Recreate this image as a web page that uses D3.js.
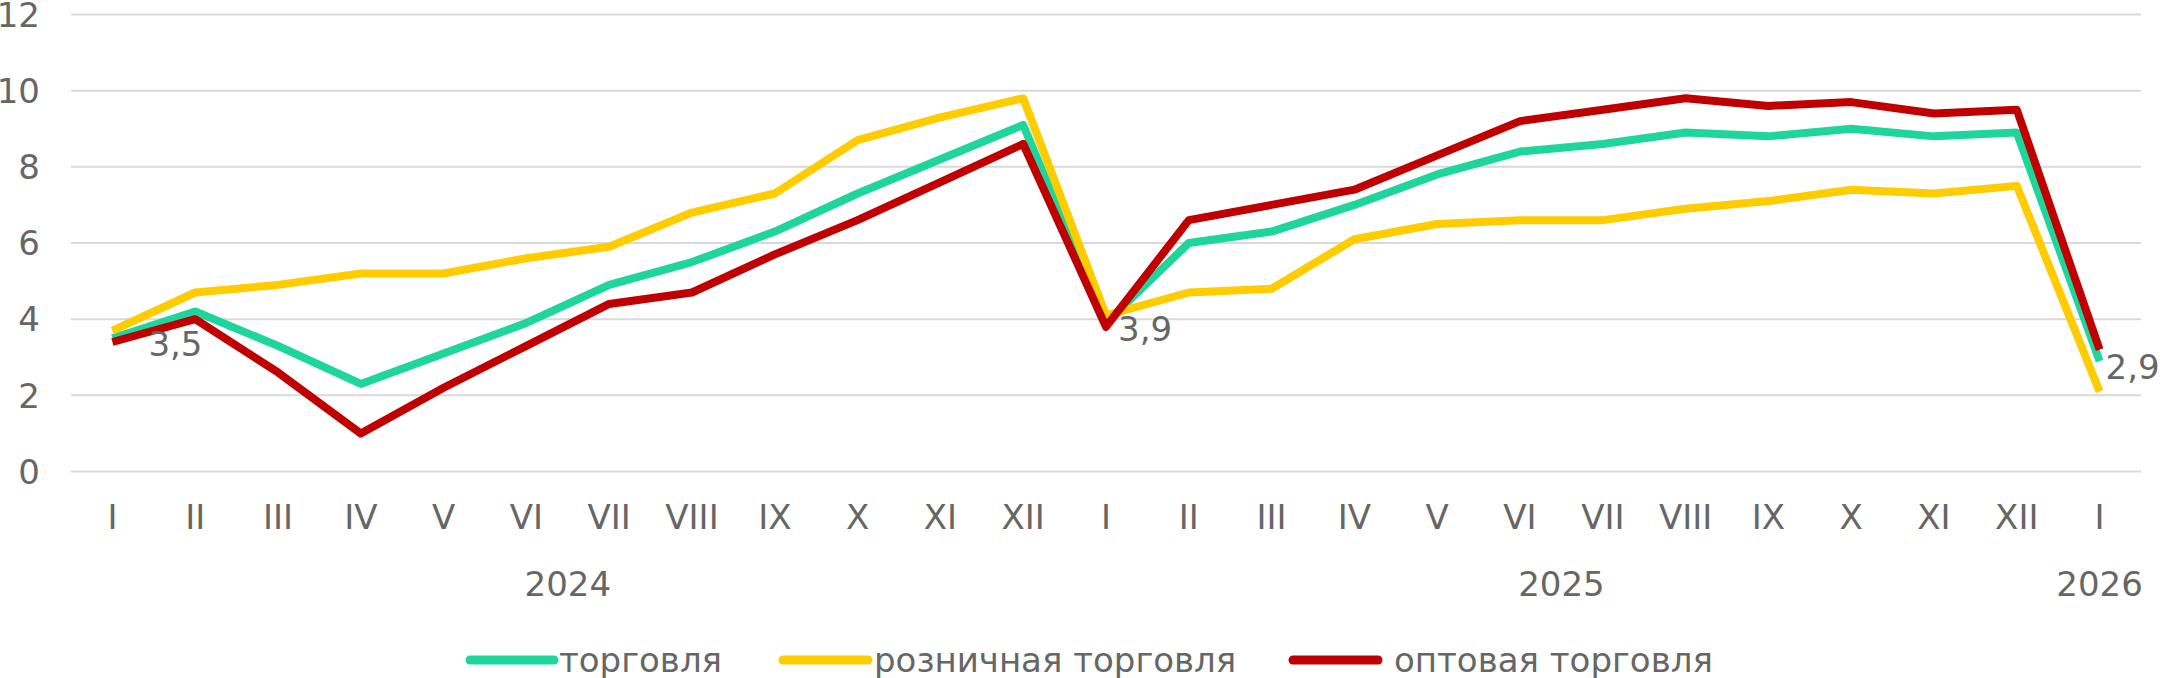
<!DOCTYPE html>
<html><head><meta charset="utf-8">
<script src="https://cdn.jsdelivr.net/npm/d3@7"></script>
<style>body{margin:0;background:#fff}text{font-family:"DejaVu Sans",Verdana,sans-serif;fill:#666666}</style>
</head><body><svg id="c" width="2160" height="678"></svg>
<script>
const months=["I","II","III","IV","V","VI","VII","VIII","IX","X","XI","XII","I","II","III","IV","V","VI","VII","VIII","IX","X","XI","XII","I"];
const years=[{label:"2024",from:0,to:11},{label:"2025",from:12,to:23},{label:"2026",from:24,to:24}];
const trade=[3.5,4.2,3.3,2.3,3.1,3.9,4.9,5.5,6.3,7.3,8.2,9.1,3.9,6.0,6.3,7.0,7.8,8.4,8.6,8.9,8.8,9.0,8.8,8.9,2.9];
const retail=[3.7,4.7,4.9,5.2,5.2,5.6,5.9,6.8,7.3,8.7,9.3,9.8,4.1,4.7,4.8,6.1,6.5,6.6,6.6,6.9,7.1,7.4,7.3,7.5,2.1];
const wholesale=[3.4,4.0,2.6,1.0,2.2,3.3,4.4,4.7,5.7,6.6,7.6,8.6,3.8,6.6,7.0,7.4,8.3,9.2,9.5,9.8,9.6,9.7,9.4,9.5,3.2];
const yTicks=[0,2,4,6,8,10,12];
const seriesNames=["торговля","розничная торговля","оптовая торговля"];
const labelIdx=[0,12,24];

const svg=d3.select("#c");
const idx=d3.range(months.length);
const x=d3.scaleBand().domain(idx).range([71,2141]);
const cx=i=>x(i)+x.bandwidth()/2;
const y=d3.scaleLinear().domain([0,12]).range([471.5,14.5]);
const fs=34;

svg.append("g").selectAll("line").data(yTicks).join("line")
 .attr("x1",71).attr("x2",2141).attr("y1",d=>y(d)).attr("y2",d=>y(d))
 .attr("stroke","#d9d9d9").attr("stroke-width",2);
svg.append("g").selectAll("text").data(yTicks).join("text")
 .attr("x",40).attr("y",d=>y(d)).attr("dy","0.36em").attr("text-anchor","end")
 .attr("font-size",fs).text(d=>d);
svg.append("g").selectAll("text").data(idx).join("text")
 .attr("x",cx).attr("y",517).attr("dy","0.36em").attr("text-anchor","middle")
 .attr("font-size",fs).text(i=>months[i]);
svg.append("g").selectAll("text").data(years).join("text")
 .attr("x",d=>(cx(d.from)+cx(d.to))/2).attr("y",584).attr("dy","0.36em").attr("text-anchor","middle")
 .attr("font-size",fs).text(d=>d.label);

const series=[{v:trade,c:"#1ED69C"},{v:retail,c:"#FFCC00"},{v:wholesale,c:"#C00000"}];
const line=d3.line().x((d,i)=>cx(i)).y(d=>y(d));
series.forEach(s=>svg.append("path").attr("d",line(s.v)).attr("fill","none")
 .attr("stroke",s.c).attr("stroke-width",8).attr("stroke-linejoin","round"));

const dxs=[36,12,6];
svg.append("g").selectAll("text").data(labelIdx).join("text")
 .attr("x",(i,k)=>cx(i)+dxs[k]).attr("y",i=>y(trade[i])+6).attr("dy","0.36em")
 .attr("font-size",fs).text(i=>String(trade[i]).replace(".",","));

const lg=[{x1:470,x2:554,t:559},{x1:783,x2:868,t:874},{x1:1293,x2:1378,t:1394}];
lg.forEach((l,k)=>{
 svg.append("line").attr("x1",l.x1).attr("x2",l.x2).attr("y1",660).attr("y2",660)
  .attr("stroke",series[k].c).attr("stroke-width",9).attr("stroke-linecap","round");
 svg.append("text").attr("x",l.t).attr("y",660).attr("dy","0.36em").attr("font-size",fs).text(seriesNames[k]);
});
</script></body></html>
